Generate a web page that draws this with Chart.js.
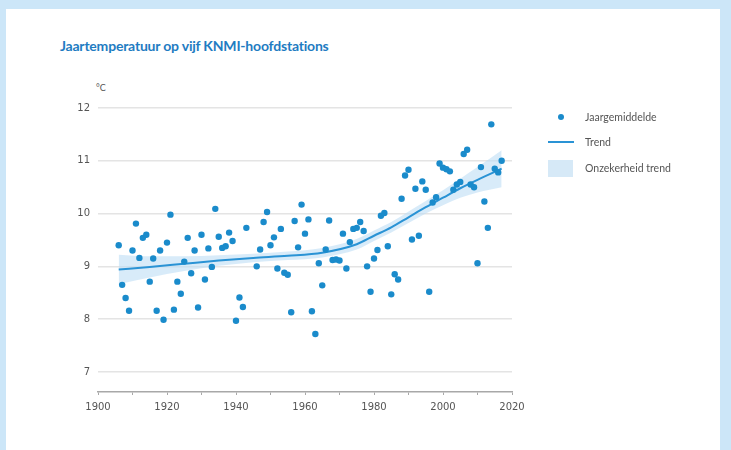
<!DOCTYPE html>
<html>
<head>
<meta charset="utf-8">
<script src="https://cdn.jsdelivr.net/npm/chart.js@4.4.0/dist/chart.umd.min.js"></script>
<style>
  html, body { margin: 0; padding: 0; }
  body { width: 731px; height: 450px; background: #cce6f8; position: relative; overflow: hidden; font-family: Lato, "Open Sans", sans-serif; }
  #panel { position: absolute; left: 6px; top: 9px; width: 714px; height: 441px; background: #fff; }
  #chart-wrap { position: absolute; left: 0; top: 0; width: 731px; height: 450px; }
  #title { position: absolute; left: 60px; top: 37px; font-size: 14px; font-weight: 700; color: #1f7cc2; letter-spacing: -0.2px; }
  #unit { position: absolute; left: 96px; top: 82px; font-size: 9px; color: #555; }
  .leg { position: absolute; left: 585px; font-size: 10.5px; color: #555; line-height: 12px; }
  .mark { position: absolute; }
</style>
</head>
<body>
<div id="panel"></div>
<div id="title">Jaartemperatuur op vijf KNMI-hoofdstations</div>
<div id="unit">°C</div>
<div id="chart-wrap"><canvas id="temp_chart" width="731" height="450"></canvas></div>

<div class="mark" style="left:558px;top:114px;width:6px;height:6px;border-radius:50%;background:#1a8bcb"></div>
<div class="leg" style="top:111px">Jaargemiddelde</div>
<div class="mark" style="left:548px;top:141px;width:26px;height:2px;background:#2a93d5"></div>
<div class="leg" style="top:136px">Trend</div>
<div class="mark" style="left:548px;top:160px;width:25px;height:17px;background:#d6e9f7"></div>
<div class="leg" style="top:162px">Onzekerheid trend</div>

<script>
// annual means (°C), 1944-1945 missing
const years = [
  1906, 1907, 1908, 1909, 1910, 1911, 1912, 1913, 1914, 1915,
  1916, 1917, 1918, 1919, 1920, 1921, 1922, 1923, 1924, 1925,
  1926, 1927, 1928, 1929, 1930, 1931, 1932, 1933, 1934, 1935,
  1936, 1937, 1938, 1939, 1940, 1941, 1942, 1943, 1946, 1947,
  1948, 1949, 1950, 1951, 1952, 1953, 1954, 1955, 1956, 1957,
  1958, 1959, 1960, 1961, 1962, 1963, 1964, 1965, 1966, 1967,
  1968, 1969, 1970, 1971, 1972, 1973, 1974, 1975, 1976, 1977,
  1978, 1979, 1980, 1981, 1982, 1983, 1984, 1985, 1986, 1987,
  1988, 1989, 1990, 1991, 1992, 1993, 1994, 1995, 1996, 1997,
  1998, 1999, 2000, 2001, 2002, 2003, 2004, 2005, 2006, 2007,
  2008, 2009, 2010, 2011, 2012, 2013, 2014, 2015, 2016, 2017
];
const annualMeans = [
  9.40, 8.65, 8.40, 8.16, 9.30, 9.81, 9.16, 9.54, 9.60, 8.71,
  9.15, 8.16, 9.30, 7.99, 9.45, 9.98, 8.18, 8.71, 8.48, 9.09,
  9.54, 8.87, 9.30, 8.22, 9.60, 8.75, 9.34, 8.99, 10.09, 9.56,
  9.35, 9.38, 9.64, 9.48, 7.97, 8.41, 8.23, 9.73, 9.00, 9.32,
  9.84, 10.03, 9.40, 9.55, 8.96, 9.71, 8.88, 8.84, 8.13, 9.86,
  9.36, 10.17, 9.62, 9.89, 8.15, 7.72, 9.06, 8.64, 9.32, 9.87,
  9.12, 9.13, 9.11, 9.62, 8.96, 9.46, 9.71, 9.73, 9.84, 9.67,
  9.00, 8.52, 9.15, 9.31, 9.96, 10.01, 9.38, 8.47, 8.85, 8.75,
  10.28, 10.72, 10.83, 9.51, 10.47, 9.58, 10.61, 10.45, 8.52, 10.21,
  10.31, 10.95, 10.87, 10.84, 10.80, 10.45, 10.55, 10.60, 11.13, 11.21,
  10.55, 10.50, 9.06, 10.88, 10.23, 9.73, 11.69, 10.85, 10.78, 11.00
];

// trend and its uncertainty band
const trendYears = [1906, 1915, 1925, 1935, 1945, 1955, 1965, 1975, 1980, 1985, 1990, 1995, 2000, 2005, 2010, 2017];
const trend      = [8.94, 8.99, 9.05, 9.11, 9.16, 9.20, 9.26, 9.42, 9.58, 9.74, 9.93, 10.12, 10.30, 10.48, 10.64, 10.85];
const trendUpper = [9.22, 9.19, 9.19, 9.21, 9.24, 9.28, 9.35, 9.52, 9.68, 9.84, 10.04, 10.24, 10.44, 10.66, 10.88, 11.20];
const trendLower = [8.66, 8.79, 8.91, 9.01, 9.08, 9.12, 9.17, 9.32, 9.48, 9.64, 9.82, 10.00, 10.16, 10.30, 10.40, 10.50];

const yTicks = [7, 8, 9, 10, 11, 12];

const pts = (xs, ys) => xs.map((x, i) => ({ x: x, y: ys[i] }));

const ctx = document.getElementById('temp_chart').getContext('2d');
const tempChart = new Chart(ctx, {
  type: 'scatter',
  data: {
    datasets: [
      {
        label: 'Jaargemiddelde',
        data: pts(years, annualMeans),
        backgroundColor: '#1a8bcb',
        borderWidth: 0,
        pointRadius: 3.2,
        order: 0
      },
      {
        type: 'line',
        label: 'Trend',
        data: pts(trendYears, trend),
        borderColor: '#2a93d5',
        borderWidth: 2,
        pointRadius: 0,
        cubicInterpolationMode: 'monotone',
        fill: false,
        order: 1
      },
      {
        type: 'line',
        label: 'upper',
        data: pts(trendYears, trendUpper),
        borderWidth: 0,
        pointRadius: 0,
        cubicInterpolationMode: 'monotone',
        fill: false,
        order: 2
      },
      {
        type: 'line',
        label: 'Onzekerheid trend',
        data: pts(trendYears, trendLower),
        borderWidth: 0,
        pointRadius: 0,
        cubicInterpolationMode: 'monotone',
        backgroundColor: 'rgba(190, 222, 245, 0.6)',
        fill: '-1',
        order: 2
      }
    ]
  },
  options: {
    responsive: false,
    animation: false,
    layout: { padding: { left: 0, right: 219, top: 108, bottom: 0 } },
    plugins: {
      legend: { display: false },
      tooltip: { enabled: false }
    },
    scales: {
      x: {
        type: 'linear',
        min: 1900,
        max: 2020,
        afterFit: s => { s.height = 58; },
        border: { display: true, color: '#a8a8a8', width: 1.5 },
        grid: { drawOnChartArea: false, drawTicks: true, tickLength: 3, color: '#a8a8a8' },
        ticks: {
          stepSize: 10,
          autoSkip: false,
          maxRotation: 0,
          padding: 6,
          color: '#555',
          font: { family: 'DejaVu Sans', size: 10 },
          callback: v => (v % 20 === 0 ? String(v) : '')
        }
      },
      y: {
        min: 6.62,
        max: 12,
        afterFit: s => { s.width = 98; },
        afterBuildTicks: axis => { axis.ticks = yTicks.map(v => ({ value: v })); },
        border: { display: false },
        grid: { color: '#e4e4e4', lineWidth: 1.5, drawTicks: false },
        ticks: {
          padding: 8,
          color: '#555',
          font: { family: 'DejaVu Sans', size: 10 }
        }
      }
    }
  }
});
</script>
</body>
</html>
